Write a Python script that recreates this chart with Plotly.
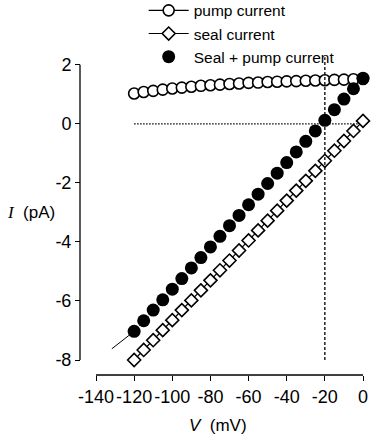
import plotly.graph_objects as go

# ---- data ----
voltage = [-120, -115, -110, -105, -100, -95, -90, -85, -80, -75, -70, -65, -60,
           -55, -50, -45, -40, -35, -30, -25, -20, -15, -10, -5, 0]
pump_current = [1.03, 1.08, 1.12, 1.16, 1.20, 1.23, 1.26, 1.29, 1.31, 1.33, 1.35, 1.37, 1.39,
                1.40, 1.42, 1.43, 1.44, 1.45, 1.46, 1.47, 1.48, 1.49, 1.50, 1.51, 1.52]
seal_current = [-8.00, -7.66, -7.33, -6.99, -6.65, -6.31, -5.98, -5.64, -5.30, -4.96, -4.63, -4.29, -3.95,
                -3.61, -3.28, -2.94, -2.60, -2.26, -1.93, -1.59, -1.25, -0.91, -0.58, -0.24, 0.10]
total_current = [-7.03, -6.67, -6.31, -5.96, -5.60, -5.24, -4.88, -4.53, -4.17, -3.81, -3.45, -3.10, -2.74,
                 -2.38, -2.02, -1.67, -1.31, -0.95, -0.59, -0.24, 0.12, 0.48, 0.84, 1.19, 1.55]
fit_v = [-131.7, -120]
fit_i = [-7.62, -7.03]

x_ticks = [-140, -120, -100, -80, -60, -40, -20, 0]
y_ticks = [-8, -6, -4, -2, 0, 2]
x_range = [-140, 0]
y_axis_span = [-8, 2]
reversal_v = -20
dashed_top = 2.26
zero_line_v = [-120, 0]

FONT = "Liberation Sans, Arial, sans-serif"

fig = go.Figure()

fig.add_trace(go.Scatter(
    x=fit_v, y=fit_i, mode="lines", line=dict(color="black", width=1),
    showlegend=False, hoverinfo="skip"))

fig.add_trace(go.Scatter(
    x=voltage, y=pump_current, mode="lines+markers", name="pump current",
    line=dict(color="black", width=1.2),
    marker=dict(symbol="circle", size=11, color="white", line=dict(color="black", width=1.6)),
    cliponaxis=False))

fig.add_trace(go.Scatter(
    x=voltage, y=seal_current, mode="lines+markers", name="seal current",
    line=dict(color="black", width=1.2),
    marker=dict(symbol="diamond", size=10, color="white", line=dict(color="black", width=1.6)),
    cliponaxis=False))

fig.add_trace(go.Scatter(
    x=voltage, y=total_current, mode="markers", name="Seal + pump current",
    marker=dict(symbol="circle", size=13, color="black", line=dict(width=0)),
    cliponaxis=False))

shapes = [
    # axis lines
    dict(type="line", xref="paper", yref="y", x0=0, x1=0, y0=y_axis_span[0], y1=y_axis_span[1],
         line=dict(color="black", width=1.3)),
    dict(type="line", xref="x", yref="paper", x0=x_range[0], x1=x_range[1], y0=0, y1=0,
         line=dict(color="black", width=1.3)),
    # reference lines
    dict(type="line", xref="x", yref="y", x0=reversal_v, x1=reversal_v, y0=y_axis_span[0], y1=dashed_top,
         line=dict(color="black", width=1.3, dash="3px,2px"), layer="above"),
    dict(type="line", xref="x", yref="y", x0=zero_line_v[0], x1=zero_line_v[1], y0=0, y1=0,
         line=dict(color="black", width=1.2, dash="1.5px,1.5px"), layer="below"),
]

annotations = [
    dict(text="<span style='font-family:Liberation Serif'><i>I</i></span>  (pA)", xref="paper", yref="paper",
         x=-0.173, y=0.508, xanchor="center", yanchor="middle", showarrow=False,
         font=dict(family=FONT, size=17, color="black")),
    dict(text="<i>V</i>  (mV)", xref="paper", yref="paper",
         x=0.488, y=-0.157, xanchor="center", yanchor="middle", showarrow=False,
         font=dict(family=FONT, size=17, color="black")),
]

fig.update_layout(
    width=375, height=439,
    margin=dict(l=80, r=12, t=56, b=64, autoexpand=False),
    paper_bgcolor="white", plot_bgcolor="white",
    font=dict(family=FONT, color="black"),
    showlegend=True,
    legend=dict(x=0.225, y=1.195, xanchor="left", yanchor="top", bgcolor="rgba(0,0,0,0)",
                font=dict(family=FONT, size=15.5, color="black"), tracegroupgap=0,
                itemwidth=40),
    shapes=shapes, annotations=annotations,
    xaxis=dict(domain=[16 / 283, 1], range=x_range, anchor="free", position=0,
               showline=False, showgrid=False, zeroline=False, automargin=False,
               ticks="outside", ticklen=5, tickwidth=1.3, tickcolor="black", tickangle=0,
               tickvals=x_ticks, ticktext=[str(v) for v in x_ticks],
               tickfont=dict(family=FONT, size=18, color="black")),
    yaxis=dict(domain=[15 / 319, 1], range=[y_axis_span[0], 2.3], anchor="free", position=0,
               showline=False, showgrid=False, zeroline=False, automargin=False,
               ticks="outside", ticklen=5, tickwidth=1.3, tickcolor="black",
               tickvals=y_ticks, ticktext=[str(v) for v in y_ticks],
               tickfont=dict(family=FONT, size=18, color="black")),
)

fig.write_html("out.html", config={"displayModeBar": False},
               post_script="document.body.style.margin='0';document.body.style.overflow='hidden';")
